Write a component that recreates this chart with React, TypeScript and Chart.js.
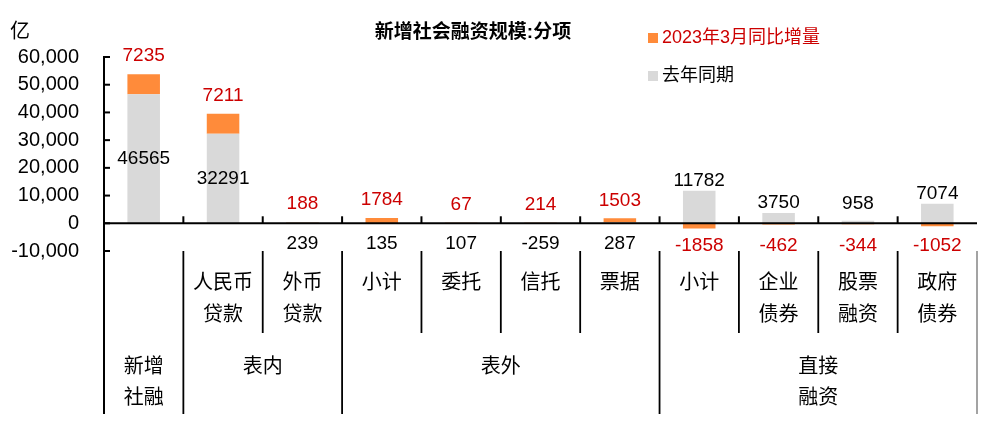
import React, { useEffect, useRef } from 'react';
import { Chart, registerables } from 'chart.js';

Chart.register(...registerables);

// ---- data ----
const categories = ['新增社融', '人民币贷款', '外币贷款', '表外小计', '委托贷款', '信托贷款', '未贴现票据', '直接融资小计', '企业债券', '股票融资', '政府债券'];
const subLabels: string[][] = [[], ['人民币', '贷款'], ['外币', '贷款'], ['小计'], ['委托'], ['信托'], ['票据'], ['小计'], ['企业', '债券'], ['股票', '融资'], ['政府', '债券']];
const groupLabels: string[][] = [['新增', '社融'], ['表内'], ['表外'], ['直接', '融资']];
const groupFirst = [0, 1, 3, 7];
const groupLast = [0, 2, 6, 10];
const lastYearValues = [46565, 32291, 239, 135, 107, -259, 287, 11782, 3750, 958, 7074];
const yoyChangeValues = [7235, 7211, 188, 1784, 67, 214, 1503, -1858, -462, -344, -1052];
const seriesNames = ['去年同期', '2023年3月同比增量'];
const yTicks = [-10000, 0, 10000, 20000, 30000, 40000, 50000, 60000];
const titleText = '新增社会融资规模:分项';
const unitText = '亿';

const FONT = "'Liberation Sans', Arial, 'Noto Sans CJK SC', sans-serif";
const GRAY = '#D9D9D9';
const ORANGE = '#FF8B3A';
const RED = '#CC0000';

const overlay = {
  id: 'overlay',
  afterDatasetsDraw(chart: any) {
    const { ctx, chartArea: ca, scales } = chart;
    const x = scales.x;
    const y = scales.y;
    const n = categories.length;
    const zero = y.getPixelForValue(0);
    const step = x.getPixelForValue(1) - x.getPixelForValue(0);
    const edge = (i: number) => x.getPixelForValue(0) - step / 2 + i * step;
    const subBottom = ca.bottom + 82;
    const groupBottom = chart.height - 10;

    ctx.save();
    ctx.lineCap = 'butt';
    ctx.strokeStyle = '#000';

    // zero line
    ctx.lineWidth = 2;
    ctx.beginPath();
    ctx.moveTo(ca.left, zero);
    ctx.lineTo(edge(n), zero);
    ctx.stroke();

    // y axis (continues down as outer separator)
    ctx.beginPath();
    ctx.moveTo(ca.left, y.getPixelForValue(yTicks[yTicks.length - 1]) - 1);
    ctx.lineTo(ca.left, groupBottom);
    ctx.stroke();

    // y ticks (inward)
    yTicks.forEach((v) => {
      const py = y.getPixelForValue(v);
      ctx.beginPath();
      ctx.moveTo(ca.left, py);
      ctx.lineTo(ca.left + 6, py);
      ctx.stroke();
    });

    // x ticks on zero line (upward)
    for (let i = 1; i < n; i++) {
      ctx.beginPath();
      ctx.moveTo(edge(i), zero);
      ctx.lineTo(edge(i), zero - 7);
      ctx.stroke();
    }

    // separators below plot
    ctx.lineWidth = 1.8;
    for (let i = 1; i <= n; i++) {
      const isGroupEdge = groupFirst.includes(i) || groupLast.map((l) => l + 1).includes(i);
      ctx.strokeStyle = i === n ? '#999' : '#000';
      ctx.beginPath();
      ctx.moveTo(edge(i), ca.bottom);
      ctx.lineTo(edge(i), isGroupEdge ? groupBottom : subBottom);
      ctx.stroke();
    }

    // category labels
    ctx.fillStyle = '#000';
    ctx.textAlign = 'center';
    ctx.textBaseline = 'middle';
    ctx.font = `20px ${FONT}`;
    subLabels.forEach((lines, i) => {
      const cx = x.getPixelForValue(i);
      lines.forEach((t, k) => ctx.fillText(t, cx, ca.bottom + 32 + k * 32));
    });
    groupLabels.forEach((lines, g) => {
      const cx = (edge(groupFirst[g]) + edge(groupLast[g] + 1)) / 2;
      lines.forEach((t, k) => ctx.fillText(t, cx, ca.bottom + 116 + k * 31));
    });

    // data labels
    const gm = chart.getDatasetMeta(0);
    const om = chart.getDatasetMeta(1);
    ctx.font = `19px ${FONT}`;
    const directGroup = groupFirst.length - 1;
    for (let i = 0; i < n; i++) {
      const g = gm.data[i];
      const v = lastYearValues[i];
      let ly: number;
      if (Math.abs(v) > 20000) ly = (g.y + g.base) / 2;
      else if (i >= groupFirst[directGroup]) ly = Math.min(g.y - 10, zero - 20);
      else ly = zero + 20;
      ctx.fillStyle = '#000';
      ctx.fillText(String(v), g.x, ly);

      const o = om.data[i];
      const w = yoyChangeValues[i];
      const oy = w >= 0 ? o.y - 18 : Math.max(o.y + 16, zero + 22);
      ctx.fillStyle = RED;
      ctx.fillText(String(w), o.x, oy);
    }

    // title
    ctx.font = `bold 19px ${FONT}`;
    ctx.fillStyle = '#000';
    ctx.fillText(titleText, 473, 33);

    // unit
    ctx.font = `20px ${FONT}`;
    ctx.textAlign = 'left';
    ctx.fillText(unitText, 10, 32);

    // legend (orange first, then gray)
    const ds = chart.data.datasets;
    const order = [1, 0];
    ctx.font = `18px ${FONT}`;
    order.forEach((d, k) => {
      const cy = 38 + k * 38;
      ctx.fillStyle = ds[d].backgroundColor;
      ctx.fillRect(648, cy - 5, 10, 10);
      ctx.fillStyle = d === 1 ? RED : '#000';
      ctx.fillText(ds[d].label, 662, cy);
    });

    ctx.restore();
  },
};

export default function App() {
  const ref = useRef<HTMLCanvasElement>(null);
  useEffect(() => {
    const chart = new Chart(ref.current as HTMLCanvasElement, {
      type: 'bar',
      data: {
        labels: categories,
        datasets: [
          { label: seriesNames[0], data: lastYearValues, backgroundColor: GRAY, borderWidth: 0, barPercentage: 0.41, categoryPercentage: 1 },
          { label: seriesNames[1], data: yoyChangeValues, backgroundColor: ORANGE, borderWidth: 0, barPercentage: 0.41, categoryPercentage: 1 },
        ],
      },
      options: {
        animation: false,
        responsive: false,
        devicePixelRatio: 1,
        layout: { padding: { top: 57, bottom: 173, left: 0, right: 28 } },
        plugins: { legend: { display: false }, title: { display: false }, tooltip: { enabled: false } },
        scales: {
          x: { display: false, stacked: true },
          y: {
            stacked: true,
            min: yTicks[0],
            max: yTicks[yTicks.length - 1],
            afterFit: (s: any) => { s.width = 104; },
            afterBuildTicks: (s: any) => { s.ticks = yTicks.map((v) => ({ value: v })); },
            grid: { display: false },
            border: { display: false },
            ticks: {
              padding: 17,
              color: '#000',
              font: { size: 20, family: FONT },
              callback: (v: any) => Number(v).toLocaleString('en-US'),
            },
          },
        },
      } as any,
      plugins: [overlay],
    });
    return () => chart.destroy();
  }, []);
  return (
    <div style={{ position: 'fixed', left: 0, top: 0, width: 1005, height: 424, background: '#fff' }}>
      <canvas ref={ref} width={1005} height={424} style={{ display: 'block' }} />
    </div>
  );
}
